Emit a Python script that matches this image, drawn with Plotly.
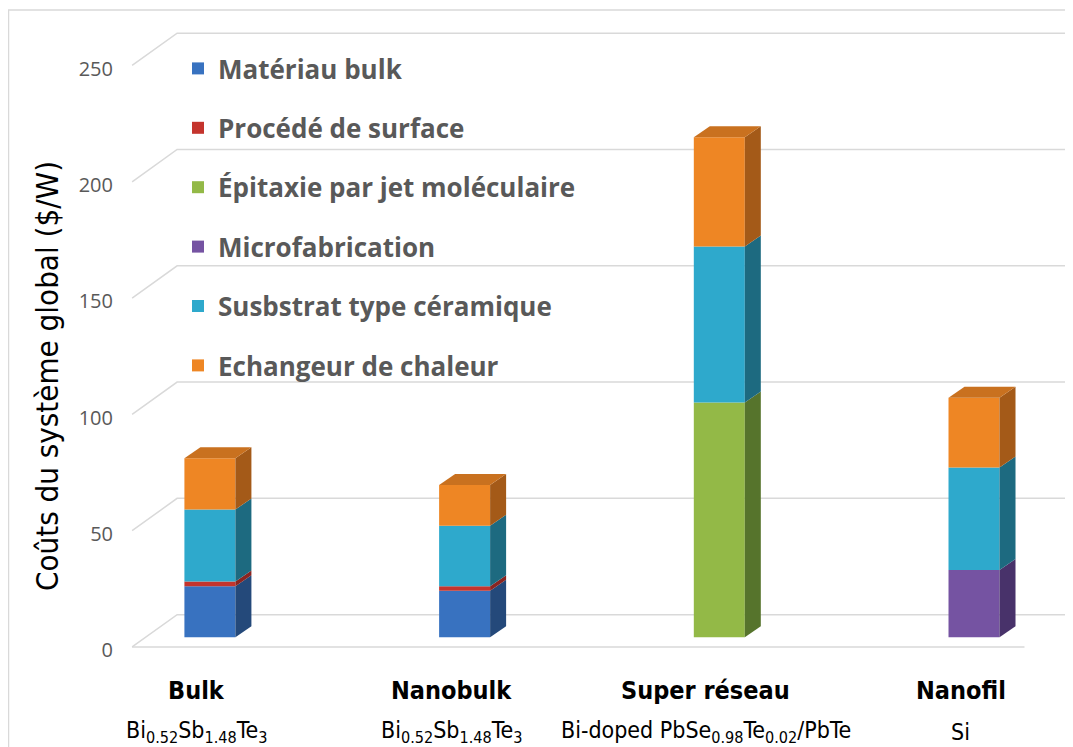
import numpy as np
import plotly.graph_objects as go

# categories and materials
categories = ["Bulk", "Nanobulk", "Super réseau", "Nanofil"]
materials = [
    "Bi<sub>0.52</sub>Sb<sub>1.48</sub>Te<sub>3</sub>",
    "Bi<sub>0.52</sub>Sb<sub>1.48</sub>Te<sub>3</sub>",
    "Bi-doped PbSe<sub>0.98</sub>Te<sub>0.02</sub>/PbTe",
    "Si",
]

# stacked cost components ($/W)
materiau_bulk = [22, 20, 0, 0]
procede_surface = [2, 2, 0, 0]
epitaxie_mbe = [0, 0, 101, 0]
microfabrication = [0, 0, 0, 29]
substrat_ceramique = [31, 26, 67, 44]
echangeur_chaleur = [22, 17.5, 47, 30]

tick_vals = [0, 50, 100, 150, 200, 250]

series = [
    ("Matériau bulk", materiau_bulk, "#3872c0", "#24497a", "#2d5a96"),
    ("Procédé de surface", procede_surface, "#c4342d", "#8a2521", "#a02a25"),
    ("Épitaxie par jet moléculaire", epitaxie_mbe, "#93b947", "#56742c", "#7a9a38"),
    ("Microfabrication", microfabrication, "#7553a2", "#48326a", "#5e4286"),
    ("Susbstrat type céramique", substrat_ceramique, "#2ea9cc", "#1d6a80", "#2689a5"),
    ("Echangeur de chaleur", echangeur_chaleur, "#ee8624", "#a45a18", "#c9711f"),
]

# ---- pseudo 3D geometry (page px -> data units) ----
OFF = 8                      # default body margin of the html page
W, H = 1073 - OFF, 747 - OFF
ml, mr, mt, mb = 120 - OFF, 1, 28 - OFF, 98
pw, ph = W - ml - mr, H - mt - mb
px_x = 254.7          # px per category
px_y = 2.326          # px per $/W
x_lo = -0.3
y_lo = -5
x_hi = x_lo + pw / px_x
y_hi = y_lo + ph / px_y


def paper_y(page_y):
    return (mt + ph - (page_y - OFF)) / ph


def paper_x(page_x):
    return (page_x - OFF - ml) / pw


bar_shift = 13.5 / px_x       # bars sit a bit behind the front plane
bar_w = 51 / px_x
side_dx = 16 / px_x
side_dy = 11 / px_y
front_off = -9.6 / px_y       # front edge of floor / side wall
back_off = 22.7 / px_y        # back wall
wall_dx = 45 / px_x
floor_left = -64.3 / px_x
floor_right = 3 + 64 / px_x
back_right = (1067 - 196.4) / px_x

xpos = np.arange(len(categories))
xbar = xpos + bar_shift

fig = go.Figure()

base = np.zeros(len(categories))
tops = {}
for name, vals, col, side_col, top_col in series:
    vals = np.array(vals, dtype=float)
    fig.add_trace(go.Bar(
        x=xbar, y=vals, base=base, width=bar_w, name=name,
        marker=dict(color=col, line=dict(width=0)),
        legendgroup=name,
    ))
    sx, sy = [], []
    for i in range(len(categories)):
        if vals[i] <= 0:
            continue
        xr = xbar[i] + bar_w / 2
        b, t = base[i], base[i] + vals[i]
        sx += [xr, xr + side_dx, xr + side_dx, xr, xr, None]
        sy += [b, b + side_dy, t + side_dy, t, b, None]
        tops[i] = (t, top_col)
    fig.add_trace(go.Scatter(
        x=sx, y=sy, mode="lines", fill="toself", fillcolor=side_col,
        line=dict(width=0, color=side_col), showlegend=False, hoverinfo="skip",
    ))
    base = base + vals

# top faces
for i, (t, top_col) in tops.items():
    xl = xbar[i] - bar_w / 2
    xr = xbar[i] + bar_w / 2
    fig.add_trace(go.Scatter(
        x=[xl, xr, xr + side_dx, xl + side_dx, xl],
        y=[t, t, t + side_dy, t + side_dy, t],
        mode="lines", fill="toself", fillcolor=top_col,
        line=dict(width=0, color=top_col), showlegend=False, hoverinfo="skip",
    ))

# perspective gridlines (side wall + back wall)
shapes = []
grid_col = "#d9d9d9"
for v in tick_vals:
    path = (f"M {floor_left},{v + front_off} "
            f"L {floor_left + wall_dx},{v + back_off} "
            f"L {back_right},{v + back_off}")
    shapes.append(dict(type="path", path=path, xref="x", yref="y",
                       line=dict(color=grid_col, width=1.5), layer="below"))
shapes.append(dict(type="line", xref="x", yref="y", x0=floor_left, x1=floor_right,
                   y0=front_off, y1=front_off, line=dict(color=grid_col, width=1.5),
                   layer="below"))
# chart area border
shapes.append(dict(type="rect", xref="paper", yref="paper",
                   x0=paper_x(8.5), x1=1.2, y0=-0.3, y1=paper_y(10),
                   line=dict(color="#d9d9d9", width=1.5), layer="below"))

label_font = "DejaVu Sans Condensed, Liberation Sans Narrow, Arial"
annotations = []
for i, (cat, mat) in enumerate(zip(categories, materials)):
    annotations.append(dict(
        x=xpos[i], xref="x", y=paper_y(690), yref="paper",
        text=f"<b>{cat}</b>", showarrow=False, xanchor="center", yanchor="middle",
        font=dict(family=label_font, size=25, color="black"),
    ))
    annotations.append(dict(
        x=xpos[i], xref="x", y=paper_y(732), yref="paper",
        text=mat, showarrow=False, xanchor="center", yanchor="middle",
        font=dict(family=label_font, size=23, color="black"),
    ))

# y axis title (placed like the original, lower than plot centre)
annotations.append(dict(
    x=paper_x(47), xref="paper", y=paper_y(376), yref="paper",
    text="Coûts du système global ($/W)", textangle=-90, showarrow=False,
    xanchor="center", yanchor="middle",
    font=dict(family=label_font, size=31, color="black"),
))

fig.update_layout(
    width=W, height=H,
    margin=dict(l=ml, r=mr, t=mt, b=mb),
    paper_bgcolor="white", plot_bgcolor="rgba(0,0,0,0)",
    barmode="overlay",
    showlegend=True,
    xaxis=dict(range=[x_lo, x_hi], visible=False, fixedrange=True),
    yaxis=dict(
        range=[y_lo, y_hi], showgrid=False, zeroline=False, showline=False,
        tickvals=tick_vals, ticks="", ticklabelshift=13, ticklabelstandoff=6,
        tickfont=dict(family="Open Sans", size=20, color="#595959"),
    ),
    legend=dict(
        x=paper_x(178), y=paper_y(45), xanchor="left", yanchor="top",
        traceorder="grouped", tracegroupgap=22.6,
        bgcolor="rgba(0,0,0,0)",
        font=dict(family="Open Sans", size=26, color="#595959", weight="bold"),
    ),
    shapes=shapes,
    annotations=annotations,
    hovermode=False,
)

fig.write_html("out.html")
